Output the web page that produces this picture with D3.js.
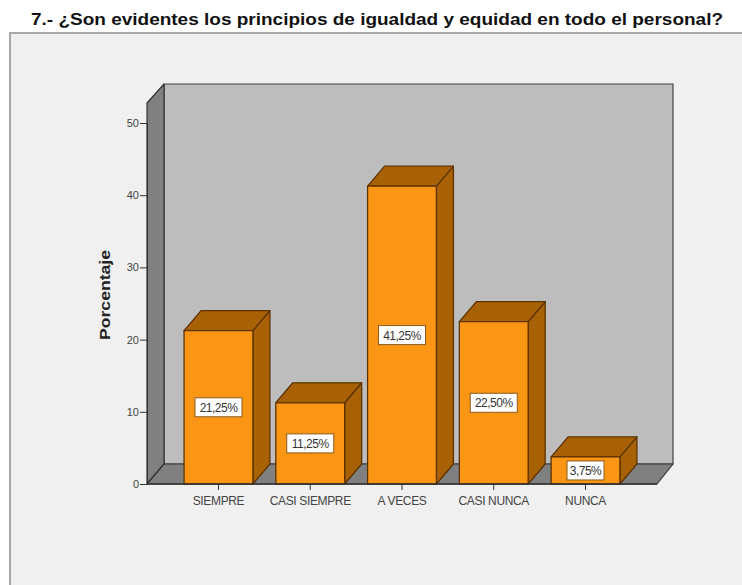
<!DOCTYPE html>
<html><head><meta charset="utf-8">
<script src="https://cdn.jsdelivr.net/npm/d3@7"></script>
<style>html,body{margin:0;padding:0;background:#fff}svg{display:block}text{font-family:"Liberation Sans",Arial,sans-serif}</style>
</head><body><div id="c"></div>
<script>
const categories=["SIEMPRE","CASI SIEMPRE","A VECES","CASI NUNCA","NUNCA"];
const values=[21.25,11.25,41.25,22.5,3.75];
const labels=["21,25%","11,25%","41,25%","22,50%","3,75%"];
const ticks=[0,10,20,30,40,50];
const title="7.- ¿Son evidentes los principios de igualdad y equidad en todo el personal?";
const yTitle="Porcentaje";

const W=742,H=585,dx=17,dy=20;
const svg=d3.select("#c").append("svg").attr("width",W).attr("height",H);
svg.append("rect").attr("width",W).attr("height",H).attr("fill","#fff");
svg.append("rect").attr("x",10).attr("y",33).attr("width",W).attr("height",H).attr("fill","#f0f0f0").attr("stroke","#a8a8a8").attr("stroke-width",2);
svg.append("text").attr("x",377).attr("y",25).attr("text-anchor","middle").attr("font-size",16).attr("font-weight","bold").attr("fill","#111").attr("textLength",692).attr("lengthAdjust","spacingAndGlyphs").text(title);

const y=d3.scaleLinear().domain([0,50]).range([484,123]);
const x=d3.scaleBand().domain(categories).range([172.6,631.4]).paddingInner(.25).paddingOuter(.125);
const L=147,R=657,B=y(0),T=103;
const poly=(pts,fill,stroke,w=1.2)=>svg.append("polygon").attr("points",pts.map(p=>p.join(",")).join(" ")).attr("fill",fill).attr("stroke",stroke).attr("stroke-width",w).attr("stroke-linejoin","round");
poly([[L+dx,T-dy+1],[R+dx-1,T-dy+1],[R+dx-1,B-dy],[L+dx,B-dy]],"#bdbdbd","#444");
poly([[L,T],[L+dx,T-dy+1],[L+dx,B-dy],[L,B]],"#808080","#333");
poly([[L,B],[L+dx,B-dy],[R+dx-1,B-dy],[R,B]],"#808080","#333");

const bars=svg.append("g").selectAll("g").data(categories).join("g");
bars.each(function(c,i){
  const g=d3.select(this),x0=x(c),x1=x0+x.bandwidth(),t=y(values[i]);
  const p=(pts,f)=>g.append("polygon").attr("points",pts.map(q=>q.join(",")).join(" ")).attr("fill",f).attr("stroke","#5c3200").attr("stroke-width",1.3).attr("stroke-linejoin","round");
  p([[x1,t],[x1+dx,t-dy],[x1+dx,B-dy],[x1,B]],"#a86205");
  p([[x0,t],[x0+dx,t-dy],[x1+dx,t-dy],[x1,t]],"#a86205");
  p([[x0,t],[x1,t],[x1,B],[x0,B]],"#fb9614");
});
bars.each(function(c,i){
  const g=d3.select(this),cx=x(c)+x.bandwidth()/2,cy=(y(values[i])+B)/2;
  const w=i===4?37:47,h=19;
  g.append("rect").attr("x",cx-w/2).attr("y",cy-h/2).attr("width",w).attr("height",h).attr("fill","#fff").attr("stroke","#8a5a1e");
  g.append("text").attr("x",cx).attr("y",cy+4.5).attr("text-anchor","middle").attr("font-size",12).attr("letter-spacing",-.5).attr("fill","#333").text(labels[i]);
});

svg.append("line").attr("x1",L).attr("x2",R).attr("y1",B).attr("y2",B).attr("stroke","#333").attr("stroke-width",1.3);
const ay=svg.append("g").attr("transform",`translate(${L},0)`).call(d3.axisLeft(y).tickValues(ticks).tickSize(7).tickPadding(1));
ay.select(".domain").attr("stroke","#333");
ay.selectAll("line").attr("stroke","#333");
ay.selectAll("text").attr("font-size",11).attr("font-family",'"Liberation Sans",Arial,sans-serif').attr("fill","#444");
const ax=svg.append("g").attr("transform",`translate(0,${B})`).call(d3.axisBottom(x).tickSize(6).tickPadding(6));
ax.select(".domain").remove();
ax.selectAll("line").attr("stroke","#333");
ax.selectAll("text").attr("font-size",12).attr("font-family",'"Liberation Sans",Arial,sans-serif').attr("fill","#444").attr("letter-spacing",-.35);
svg.append("text").attr("transform","translate(110,295) rotate(-90)").attr("text-anchor","middle").attr("font-size",15).attr("font-weight","bold").attr("fill","#222").attr("textLength",90).attr("lengthAdjust","spacingAndGlyphs").text(yTitle);
</script></body></html>
